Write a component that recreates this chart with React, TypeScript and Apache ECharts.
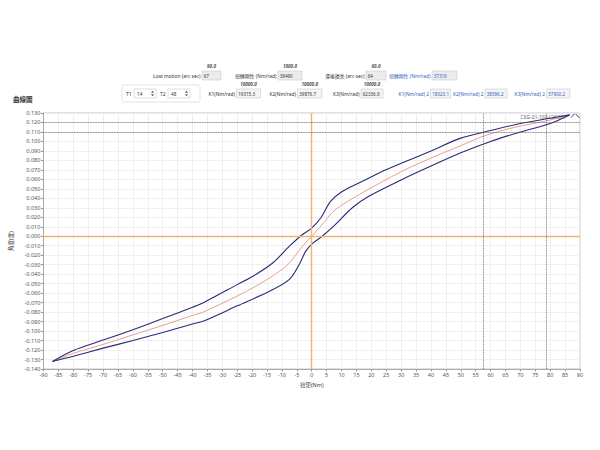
import React, { useEffect, useRef } from "react";
import * as echarts from "echarts";

// ---- data ----
const lowerX = [-87, -80, -70, -60, -50, -40, -36, -25, -14, -7.5, -4.2, -2, 0.2, 3.5, 7.9, 13.5, 19, 30, 40, 50, 60, 70, 80, 86.5];
const lowerY = [-0.132, -0.1265, -0.118, -0.11, -0.1015, -0.0925, -0.089, -0.0734, -0.0577, -0.0454, -0.0297, -0.0157, -0.0077, 0, 0.0123, 0.0298, 0.0419, 0.0594, 0.074, 0.088, 0.1, 0.11, 0.119, 0.128];
const upperX = [86.5, 80, 70, 60, 50, 40, 30, 23.4, 16.8, 10.2, 6.3, 3, -0.3, -3.1, -7.5, -13, -19.6, -25, -36.2, -40, -50, -60, -70, -80, -87];
const upperY = [0.128, 0.1245, 0.119, 0.1115, 0.1035, 0.09, 0.0769, 0.0681, 0.0577, 0.0472, 0.0367, 0.0193, 0.0078, 0.0018, -0.0105, -0.0279, -0.0419, -0.051, -0.0698, -0.0748, -0.0868, -0.0985, -0.1095, -0.1205, -0.132];
const midX = [-87, -80, -70, -60, -50, -40, -36.2, -19.6, -8.6, -3.1, 0.2, 3.5, 7.9, 16.8, 30, 40, 50, 57.6, 65, 70, 78.6, 86.5];
const midY = [-0.132, -0.1235, -0.114, -0.104, -0.094, -0.0835, -0.0797, -0.0541, -0.0315, -0.0105, 0.0007, 0.0123, 0.028, 0.0455, 0.0681, 0.0825, 0.0955, 0.1056, 0.1125, 0.1162, 0.1216, 0.128];
const refLevelsY = [0.1216, 0.1056];
const refLevelsX = [57.6, 78.6];

const xMin = -90, xMax = 90, xStep = 5;
const yMin = -0.14, yMax = 0.13, yStep = 0.01;

const xName = "扭矩(Nm)";
const yName = "角度(度)";
const panelTitle = "曲線圖";
const sampleName = "CSG-25-100-F2SC01";

const row1Labels = ["Lost motion (arc sec)", "扭轉剛性 (Nm/rad)", "滯後損失 (arc sec)", "扭轉剛性 (Nm/rad)"];
const row1Values = ["67", "39490", "64", "37319"];
const row1Hints = ["90.0", "1000.0", "60.0", ""];
const row2Labels = ["K1(Nm/rad)", "K2(Nm/rad)", "K3(Nm/rad)", "K1(Nm/rad) 2", "K2(Nm/rad) 2", "K3(Nm/rad) 2"];
const row2Values = ["19315.3", "39876.7", "62336.9", "18023.1", "38596.2", "57900.2"];
const row2Hints = ["10000.0", "10000.0", "10000.0", "", "", ""];
const tLabels = ["T1", "T2"];
const tValues = ["14", "48"];

const zip = (xs: number[], ys: number[]) => xs.map((x, i) => [x, ys[i]]);

const FONT = "'Noto Sans','Noto Sans CJK TC',sans-serif";
const NAVY = "#2d2878";
const BLUE = "#2f5fc4";

function txt(x: number, y: number, text: string, opts: any = {}) {
  const align = opts.align || "left";
  return {
    type: "text",
    x,
    y,
    silent: true,
    style: {
      text,
      fill: opts.fill || "#333",
      fontSize: opts.size || 4.9,
      fontFamily: FONT,
      fontWeight: opts.weight || "normal",
      fontStyle: opts.style || "normal",
      align,
      textAlign: align,
      verticalAlign: "middle",
      textVerticalAlign: "middle",
    },
  };
}

function box(x: number, y: number, w: number, h: number, fill: string, stroke = "#c9c9c9") {
  return {
    type: "rect",
    silent: true,
    shape: { x, y, width: w, height: h },
    style: { fill, stroke, lineWidth: 0.6 },
  };
}

function field(label: string, value: string, hint: string, bx: number, bw: number, cy: number, color: string, fill: string) {
  const els: any[] = [];
  els.push(txt(bx - 1.5, cy, label, { align: "right", fill: color }));
  els.push(box(bx, cy - 4.5, bw, 9, fill));
  els.push(txt(bx + 1.8, cy, value, { fill: color, size: 4.5 }));
  if (hint) els.push(txt(bx + bw / 2, cy - 9.5, hint, { align: "center", fill: "#555", weight: "bold", style: "italic", size: 4.6 }));
  return els;
}

function spin(x: number, cy: number, label: string, value: string) {
  const els: any[] = [];
  els.push(txt(x, cy, label, { size: 5 }));
  els.push(box(x + 8, cy - 4.5, 22, 9, "#ffffff"));
  els.push(txt(x + 11, cy, value, { size: 4.6 }));
  els.push({ type: "polygon", silent: true, shape: { points: [[x + 25, cy - 0.8], [x + 26.5, cy - 2.8], [x + 28, cy - 0.8]] }, style: { fill: "#555" } });
  els.push({ type: "polygon", silent: true, shape: { points: [[x + 25, cy + 0.8], [x + 26.5, cy + 2.8], [x + 28, cy + 0.8]] }, style: { fill: "#555" } });
  return els;
}

export default function App() {
  const ref = useRef<HTMLDivElement>(null);
  useEffect(() => {
    if (!ref.current) return;
    const chart = echarts.init(ref.current, undefined, { renderer: "svg" });

    const r1Pos = [[202, 19], [278, 24], [366, 20], [432, 25]];
    const r2Pos = [[236.5, 24], [297.5, 24.5], [361, 22], [430.5, 20], [485, 22], [546.5, 23.5]];
    const graphics: any[] = [];
    row1Labels.forEach((l, i) => {
      const c = i === 3 ? BLUE : "#333";
      graphics.push(...field(l, row1Values[i], row1Hints[i], r1Pos[i][0], r1Pos[i][1], 75.5, c, "#ececec"));
    });
    graphics.push({ type: "rect", silent: true, shape: { x: 122, y: 85, width: 78, height: 17, r: 1.5 }, style: { fill: "#fff", stroke: "#d0d0d0", lineWidth: 0.6 } });
    graphics.push(...spin(126, 93.5, tLabels[0], tValues[0]));
    graphics.push(...spin(160, 93.5, tLabels[1], tValues[1]));
    row2Labels.forEach((l, i) => {
      const c = i >= 3 ? BLUE : "#333";
      graphics.push(...field(l, row2Values[i], row2Hints[i], r2Pos[i][0], r2Pos[i][1], 93.5, c, "#f4f4f4"));
    });
    graphics.push(txt(13, 99.5, panelTitle, { size: 6.5, weight: "bold", fill: "#333" }));
    graphics.push(txt(566, 116.5, sampleName, { align: "right", fill: "#666", size: 5 }));
    graphics.push({ type: "polyline", silent: true, shape: { points: [[571, 117.5], [575, 113.2], [579.5, 118]] }, style: { stroke: NAVY, lineWidth: 0.9, fill: "none" } });

    chart.setOption({
      animation: false,
      backgroundColor: "#ffffff",
      grid: { left: 36, right: 20, top: 113, bottom: 81, show: true, borderColor: "#b5b5b5", borderWidth: 0.8 },
      xAxis: {
        type: "value",
        min: xMin,
        max: xMax,
        interval: xStep,
        name: xName,
        nameLocation: "middle",
        nameGap: 11,
        nameTextStyle: { fontSize: 5.5, color: "#333", fontFamily: FONT },
        axisLine: { onZero: false, lineStyle: { color: "#999", width: 0.8 } },
        axisTick: { show: true, length: 2.5, lineStyle: { color: "#999" } },
        axisLabel: { fontSize: 5.5, color: "#555", margin: 3, fontFamily: FONT },
        splitLine: { show: true, lineStyle: { color: "#ececec", width: 0.8 } },
      },
      yAxis: {
        type: "value",
        min: yMin,
        max: yMax,
        interval: yStep,
        name: yName,
        nameLocation: "middle",
        nameGap: 27,
        nameTextStyle: { fontSize: 5.5, color: "#333", fontFamily: FONT },
        axisLine: { show: true, onZero: false, lineStyle: { color: "#999", width: 0.8 } },
        axisTick: { show: true, length: 2.5, lineStyle: { color: "#999" } },
        axisLabel: { fontSize: 5.6, color: "#555", margin: 3, fontFamily: FONT, formatter: (v: number) => v.toFixed(3) },
        splitLine: { show: true, lineStyle: { color: "#ececec", width: 0.8 } },
      },
      graphic: graphics,
      series: [
        {
          type: "line",
          name: "mid",
          data: zip(midX, midY),
          smooth: 0.3,
          showSymbol: false,
          lineStyle: { color: "#e89384", width: 0.9 },
          z: 3,
          markLine: {
            silent: true,
            symbol: ["none", "none"],
            label: { show: false },
            lineStyle: { color: "#f2b36a", width: 1.4, type: "solid" },
            data: [{ xAxis: 0 }, { yAxis: 0 }],
          },
        },
        {
          type: "line",
          name: "load",
          data: zip(lowerX, lowerY),
          smooth: 0.3,
          showSymbol: false,
          lineStyle: { color: NAVY, width: 1.1 },
          z: 4,
          markLine: {
            silent: true,
            symbol: ["none", "none"],
            label: { show: false },
            lineStyle: { color: "#555", width: 0.8, type: "dotted" },
            data: [...refLevelsY.map((v) => ({ yAxis: v })), ...refLevelsX.map((v) => ({ xAxis: v }))],
          },
        },
        {
          type: "line",
          name: "unload",
          data: zip(upperX, upperY),
          smooth: 0.3,
          showSymbol: false,
          lineStyle: { color: NAVY, width: 1.1 },
          z: 4,
        },
      ],
    });
    return () => chart.dispose();
  }, []);
  return <div ref={ref} style={{ position: "fixed", left: 0, top: 0, width: 600, height: 450, background: "#fff" }} />;
}
